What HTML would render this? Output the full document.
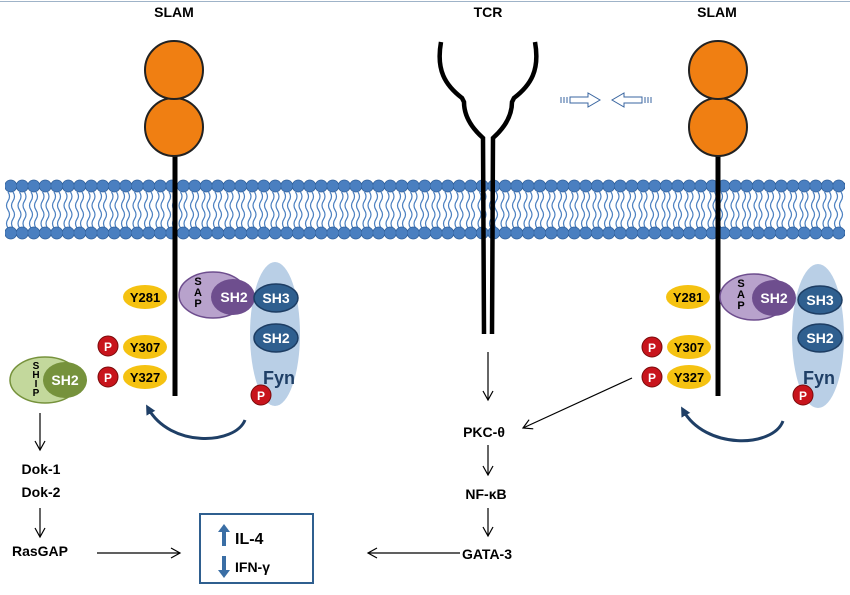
<!DOCTYPE html>
<html><head><meta charset="utf-8"><style>
html,body{margin:0;padding:0;background:#fff}
svg{display:block}
text{font-family:"Liberation Sans",sans-serif;font-weight:bold}
</style></head><body>
<svg width="850" height="595" viewBox="0 0 850 595" xmlns="http://www.w3.org/2000/svg">
<defs>
<pattern id="headsT" x="5" y="176" width="11.5" height="20" patternUnits="userSpaceOnUse">
<circle cx="5.75" cy="10" r="6" fill="#4a7fc0" stroke="#2f5f9a" stroke-width="0.8"/>
</pattern>
<pattern id="headsB" x="5" y="223" width="11.5" height="20" patternUnits="userSpaceOnUse">
<circle cx="5.75" cy="10" r="6" fill="#4a7fc0" stroke="#2f5f9a" stroke-width="0.8"/>
</pattern>
<pattern id="tails" x="5" y="192" width="11.5" height="40" patternUnits="userSpaceOnUse">
<path d="M3 0 q3 4.5 0 9 q-3 4.5 0 9 q3 4.5 0 9 q-3 4.5 0 9 M8 0 q3 4.5 0 9 q-3 4.5 0 9 q3 4.5 0 9 q-3 4.5 0 9" fill="none" stroke="#4a7fc0" stroke-width="1.2"/>
</pattern>
<marker id="ah" markerWidth="12" markerHeight="12" refX="10" refY="6" orient="auto" markerUnits="userSpaceOnUse">
<path d="M1 1 L10 6 L1 11" fill="none" stroke="#000" stroke-width="1.2"/>
</marker>
<marker id="bh" markerWidth="12" markerHeight="12" refX="6" refY="6" orient="auto" markerUnits="userSpaceOnUse">
<path d="M0 1 L10 6 L0 11 Z" fill="#1f3f66"/>
</marker>
</defs>
<line x1="0" y1="1.5" x2="850" y2="1.5" stroke="#9fb3c8" stroke-width="1"/>
<!-- membrane -->
<rect x="5" y="192" width="840" height="36" fill="url(#tails)"/>
<rect x="5" y="176" width="840" height="20" fill="url(#headsT)"/>
<rect x="5" y="223" width="840" height="20" fill="url(#headsB)"/>

<text x="174" y="17" font-size="14" text-anchor="middle">SLAM</text>
<text x="488" y="17" font-size="14" text-anchor="middle">TCR</text>
<text x="717" y="17" font-size="14" text-anchor="middle">SLAM</text>

<!-- SLAM left -->
<line x1="175" y1="140" x2="175" y2="396" stroke="#000" stroke-width="5"/>
<circle cx="174" cy="127" r="29" fill="#f07f12" stroke="#222" stroke-width="2"/>
<circle cx="174" cy="70" r="29" fill="#f07f12" stroke="#222" stroke-width="2"/>
<!-- SLAM right -->
<line x1="718" y1="140" x2="718" y2="396" stroke="#000" stroke-width="5"/>
<circle cx="718" cy="127" r="29" fill="#f07f12" stroke="#222" stroke-width="2"/>
<circle cx="718" cy="70" r="29" fill="#f07f12" stroke="#222" stroke-width="2"/>

<!-- TCR -->
<path d="M441 42 C436 70 445 85 462 98 L464 102 C464 118 474 130 483 138 L484 334" fill="none" stroke="#000" stroke-width="4.5"/>
<path d="M535 42 C540 70 531 85 514 98 L512 102 C512 118 502 130 493 138 L492 334" fill="none" stroke="#000" stroke-width="4.5"/>

<!-- small hollow arrows -->
<g fill="none" stroke="#3a66a0" stroke-width="1">
<path d="M570 97 h18 v-4 l12 7 l-12 7 v-4 h-18 z"/>
<path d="M561 97 v6 M564 97 v6 M567 97 v6"/>
<path d="M642 97 h-18 v-4 l-12 7 l12 7 v-4 h18 z"/>
<path d="M645 97 v6 M648 97 v6 M651 97 v6"/>
</g>

<g font-size="13" text-anchor="middle">
<ellipse cx="145" cy="297" rx="22" ry="12" fill="#f5c211"/><text x="145" y="302">Y281</text>
<ellipse cx="145" cy="347" rx="22" ry="12" fill="#f5c211"/><text x="145" y="352">Y307</text>
<ellipse cx="145" cy="377" rx="22" ry="12" fill="#f5c211"/><text x="145" y="382">Y327</text>
<ellipse cx="688" cy="297" rx="22" ry="12" fill="#f5c211"/><text x="688" y="302">Y281</text>
<ellipse cx="689" cy="347" rx="22" ry="12" fill="#f5c211"/><text x="689" y="352">Y307</text>
<ellipse cx="689" cy="377" rx="22" ry="12" fill="#f5c211"/><text x="689" y="382">Y327</text>
</g>
<g font-size="12" text-anchor="middle" fill="#fff" font-weight="normal">
<circle cx="108" cy="346" r="10" fill="#c8141c" stroke="#7a0a0a"/><text x="108" y="351">P</text>
<circle cx="108" cy="377" r="10" fill="#c8141c" stroke="#7a0a0a"/><text x="108" y="382">P</text>
<circle cx="652" cy="347" r="10" fill="#c8141c" stroke="#7a0a0a"/><text x="652" y="352">P</text>
<circle cx="652" cy="377" r="10" fill="#c8141c" stroke="#7a0a0a"/><text x="652" y="382">P</text>
</g>

<!-- Fyn left -->
<ellipse cx="275" cy="334" rx="25" ry="72" fill="#b9cfe6"/>
<ellipse cx="213" cy="295" rx="34" ry="23" fill="#b8a2cc" stroke="#6e4e8e" stroke-width="1.5"/>
<ellipse cx="233" cy="297" rx="22" ry="18" fill="#6e4e8e"/>
<g font-size="11" fill="#000"><text x="198" y="285" text-anchor="middle">S</text><text x="198" y="296" text-anchor="middle">A</text><text x="198" y="307" text-anchor="middle">P</text></g>
<text x="234" y="302" font-size="14" fill="#fff" font-weight="normal" text-anchor="middle">SH2</text>
<ellipse cx="276" cy="298" rx="22" ry="14" fill="#2f5f8f" stroke="#1d3d63" stroke-width="1.5"/>
<text x="276" y="303" font-size="14" fill="#fff" font-weight="normal" text-anchor="middle">SH3</text>
<ellipse cx="276" cy="338" rx="22" ry="14" fill="#2f5f8f" stroke="#1d3d63" stroke-width="1.5"/>
<text x="276" y="343" font-size="14" fill="#fff" font-weight="normal" text-anchor="middle">SH2</text>
<text x="279" y="384" font-size="18" fill="#1f3f66" text-anchor="middle">Fyn</text>
<circle cx="261" cy="395" r="10" fill="#c8141c" stroke="#7a0a0a"/><text x="261" y="400" font-size="12" fill="#fff" font-weight="normal" text-anchor="middle">P</text>
<path d="M245 420 C235 445 170 448 148 408" fill="none" stroke="#1f3f66" stroke-width="3" marker-end="url(#bh)"/>

<!-- Fyn right -->
<ellipse cx="818" cy="336" rx="26" ry="72" fill="#b9cfe6"/>
<ellipse cx="754" cy="297" rx="34" ry="23" fill="#b8a2cc" stroke="#6e4e8e" stroke-width="1.5"/>
<ellipse cx="774" cy="298" rx="22" ry="18" fill="#6e4e8e"/>
<g font-size="11" fill="#000"><text x="741" y="287" text-anchor="middle">S</text><text x="741" y="298" text-anchor="middle">A</text><text x="741" y="309" text-anchor="middle">P</text></g>
<text x="774" y="303" font-size="14" fill="#fff" font-weight="normal" text-anchor="middle">SH2</text>
<ellipse cx="820" cy="300" rx="22" ry="14" fill="#2f5f8f" stroke="#1d3d63" stroke-width="1.5"/>
<text x="820" y="305" font-size="14" fill="#fff" font-weight="normal" text-anchor="middle">SH3</text>
<ellipse cx="820" cy="338" rx="22" ry="14" fill="#2f5f8f" stroke="#1d3d63" stroke-width="1.5"/>
<text x="820" y="343" font-size="14" fill="#fff" font-weight="normal" text-anchor="middle">SH2</text>
<text x="819" y="384" font-size="18" fill="#1f3f66" text-anchor="middle">Fyn</text>
<circle cx="803" cy="395" r="10" fill="#c8141c" stroke="#7a0a0a"/><text x="803" y="400" font-size="12" fill="#fff" font-weight="normal" text-anchor="middle">P</text>
<path d="M783 421 C773 448 705 450 683 410" fill="none" stroke="#1f3f66" stroke-width="3" marker-end="url(#bh)"/>

<!-- SHIP -->
<ellipse cx="45" cy="380" rx="35" ry="23" fill="#c3d89c" stroke="#76923c" stroke-width="1.5"/>
<ellipse cx="65" cy="380" rx="22" ry="18" fill="#76923c"/>
<g font-size="10" fill="#000" text-anchor="middle"><text x="36" y="369">S</text><text x="36" y="378">H</text><text x="36" y="387">I</text><text x="36" y="396">P</text></g>
<text x="65" y="385" font-size="14" fill="#fff" font-weight="normal" text-anchor="middle">SH2</text>

<!-- pathways -->
<g stroke="#000" stroke-width="1.2" fill="none" marker-end="url(#ah)">
<line x1="40" y1="413" x2="40" y2="450"/>
<line x1="40" y1="508" x2="40" y2="537"/>
<line x1="97" y1="553" x2="180" y2="553"/>
<line x1="488" y1="352" x2="488" y2="400"/>
<line x1="632" y1="378" x2="523" y2="428"/>
<line x1="488" y1="445" x2="488" y2="475"/>
<line x1="488" y1="508" x2="488" y2="536"/>
<line x1="460" y1="553" x2="368" y2="553"/>
</g>
<g font-size="14" text-anchor="middle">
<text x="41" y="474">Dok-1</text>
<text x="41" y="497">Dok-2</text>
<text x="40" y="556">RasGAP</text>
<text x="484" y="437">PKC-θ</text>
<text x="486" y="499">NF-κB</text>
<text x="487" y="559">GATA-3</text>
</g>
<rect x="200" y="514" width="113" height="69" fill="#fff" stroke="#2f5f8f" stroke-width="2"/>
<path d="M222 546 v-14 h-4 l6 -8 l6 8 h-4 v14 z" fill="#3a6ea5"/>
<path d="M222 556 v14 h-4 l6 8 l6 -8 h-4 v-14 z" fill="#3a6ea5"/>
<text x="235" y="544" font-size="16">IL-4</text>
<text x="235" y="572" font-size="14">IFN-γ</text>
</svg>
</body></html>
